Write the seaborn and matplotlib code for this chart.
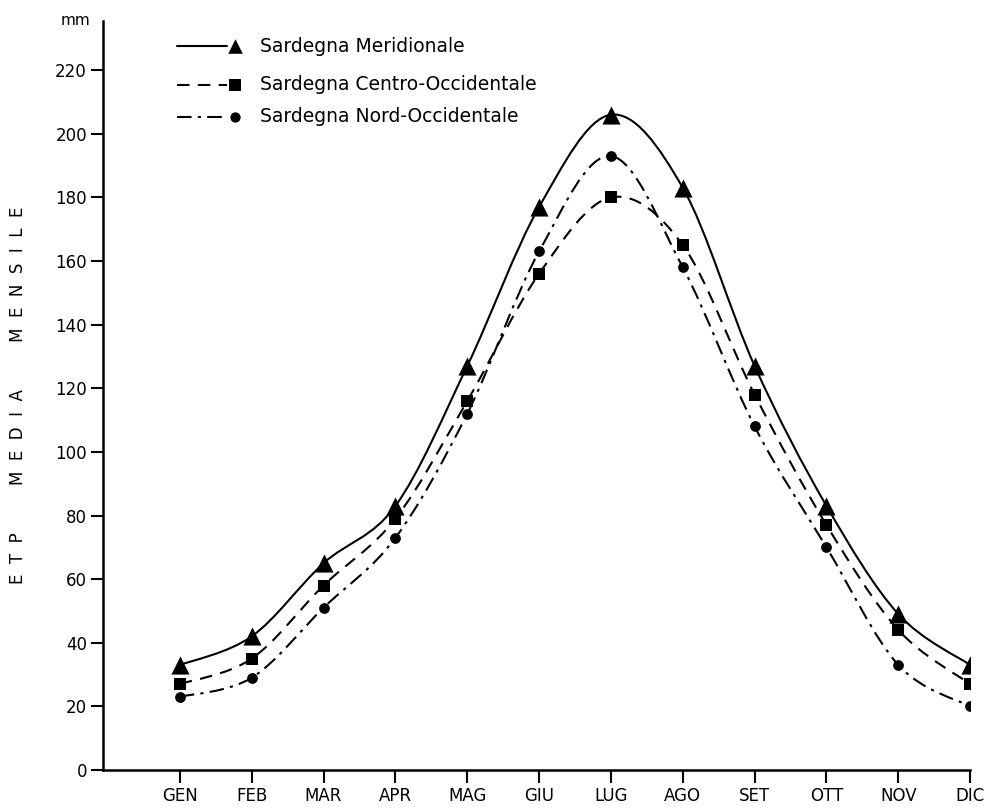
import numpy as np
import matplotlib
matplotlib.use("Agg")
import matplotlib.pyplot as plt
import seaborn as sns
from matplotlib.path import Path
from matplotlib.patches import PathPatch

months = ["GEN", "FEB", "MAR", "APR", "MAG", "GIU", "LUG", "AGO", "SET", "OTT", "NOV", "DIC"]
meridionale = [33, 42, 65, 83, 127, 177, 206, 183, 127, 83, 49, 33]
centro_occ = [27, 35, 58, 79, 116, 156, 180, 165, 118, 77, 44, 27]
nord_occ = [23, 29, 51, 73, 112, 163, 193, 158, 108, 70, 33, 20]
series_names = ["Sardegna Meridionale", "Sardegna Centro-Occidentale", "Sardegna Nord-Occidentale"]
y_ticks = [0, 20, 40, 60, 80, 100, 120, 140, 160, 180, 200, 220]

sns.set_theme(style="white")
plt.rcParams['font.family'] = ['DejaVu Sans']
plt.rcParams['text.color'] = 'black'
plt.rcParams['axes.labelcolor'] = 'black'

fig = plt.figure(figsize=(9.9, 8.09), dpi=100)
ax = fig.add_axes([0.104, 0.0482, 0.876, 0.926])

x = np.arange(len(months))

def smooth_path(xs, ys):
    pts = np.column_stack([xs, ys]).astype(float)
    n = len(pts)
    verts = [pts[0]]
    codes = [Path.MOVETO]
    for i in range(n - 1):
        p0 = pts[i - 1] if i > 0 else pts[i]
        p1 = pts[i]
        p2 = pts[i + 1]
        p3 = pts[i + 2] if i + 2 < n else pts[i + 1]
        c1 = p1 + (p2 - p0) / 6.0
        c2 = p2 - (p3 - p1) / 6.0
        verts += [c1, c2, p2]
        codes += [Path.CURVE4] * 3
    return Path(verts, codes)

styles = [
    (meridionale, "-", "^", 170, 110),
    (centro_occ, (0, (6, 4)), "s", 75, 80),
    (nord_occ, (0, (7, 3, 1.5, 3)), "o", 60, 55),
]

for vals, ls, mk, s, sl in styles:
    patch = PathPatch(smooth_path(x, vals), fill=False, edgecolor="black",
                      linewidth=1.5, linestyle=ls)
    ax.add_patch(patch)
    sns.scatterplot(x=x, y=vals, marker=mk, s=s, color="black",
                    edgecolor="black", linewidth=0, ax=ax, zorder=3)

ax.set_xlim(-1.07, 11.0)
ax.set_ylim(0, 235.5)
ax.set_xticks(x)
ax.set_xticklabels(months, fontsize=12)
ax.set_yticks(y_ticks)
ax.set_yticklabels([str(t) for t in y_ticks], fontsize=12)

for side in ["top", "right"]:
    ax.spines[side].set_visible(False)
for side in ["left", "bottom"]:
    ax.spines[side].set_color("black")
    ax.spines[side].set_linewidth(1.8)

ax.tick_params(axis="x", direction="out", length=9, width=1.5, colors="black", pad=3)
ax.tick_params(axis="y", direction="out", length=8.5, width=1.5, colors="black", pad=3)
ax.tick_params(left=True, bottom=True)

ax.set_ylabel("E  T  P         M  E  D  I  A         M  E  N  S  I  L  E",
              fontsize=12, labelpad=20, color="black")
ax.text(-0.015, 1.0, "mm", transform=ax.transAxes, fontsize=11, ha="right",
        va="center", color="black")

# Legend drawn in axes coordinates
leg_rows = [0.966, 0.915, 0.872]
for (vals, ls, mk, s, sl), name, yy in zip(styles, series_names, leg_rows):
    ax.plot([0.085, 0.143], [yy, yy], transform=ax.transAxes, color="black",
            linewidth=1.5, linestyle=ls)
    ax.scatter([0.152], [yy], transform=ax.transAxes, marker=mk, s=sl,
               color="black", linewidth=0, zorder=3)
    ax.text(0.181, yy, name, transform=ax.transAxes, fontsize=13.5,
            ha="left", va="center", color="black")

fig.savefig("out.png", dpi=100, facecolor="white")
